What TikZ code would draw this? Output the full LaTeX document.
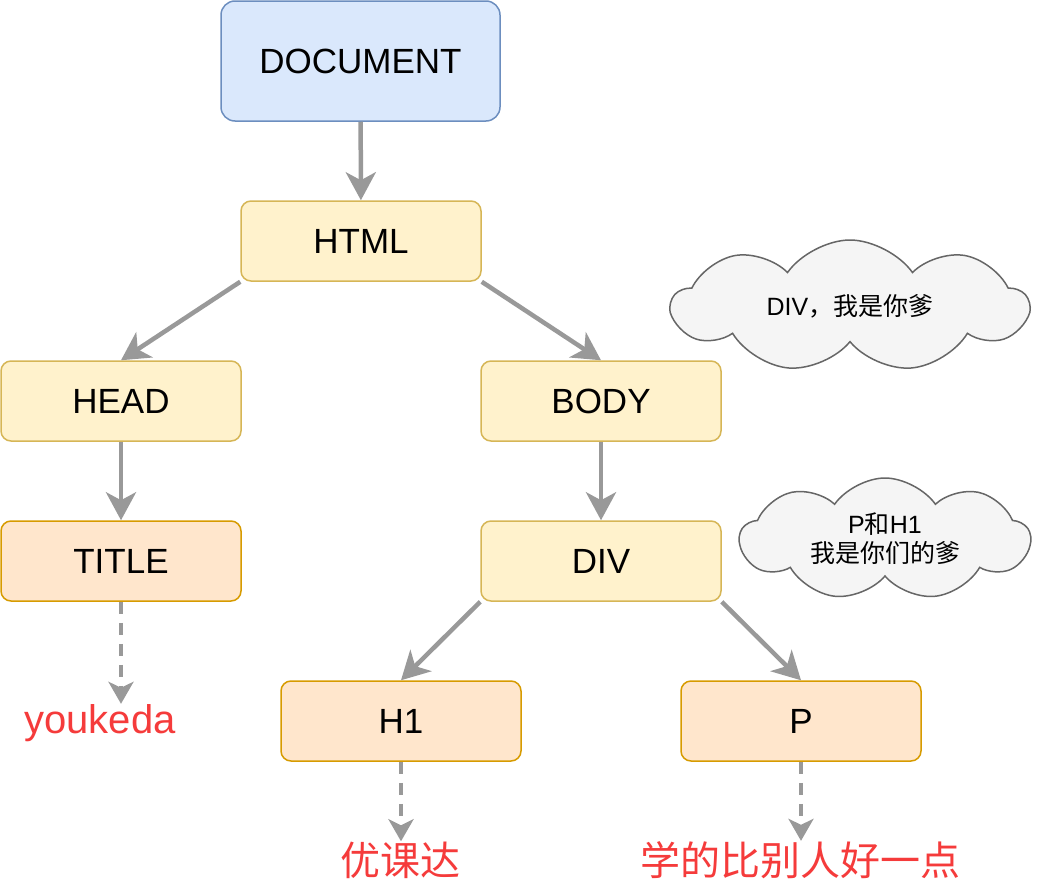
\documentclass[tikz,border=0pt]{standalone}
\usepackage{fontspec}
\setmainfont{Liberation Sans}
\newfontfamily\cjk{Noto Sans CJK SC}
\usetikzlibrary{arrows.meta,shapes.symbols}
\definecolor{docfill}{HTML}{DAE8FC}
\definecolor{docline}{HTML}{6C8EBF}
\definecolor{elfill}{HTML}{FFF2CC}
\definecolor{elline}{HTML}{D6B656}
\definecolor{leaffill}{HTML}{FFE6CC}
\definecolor{leafline}{HTML}{D79B00}
\definecolor{edgec}{HTML}{999999}
\definecolor{notefill}{HTML}{F5F5F5}
\definecolor{noteline}{HTML}{666666}
\definecolor{redtxt}{HTML}{F53B3B}
\newcommand\zh[1]{{\cjk #1}}
\tikzset{
  el/.style={draw=elline,line width=1.5pt,rounded corners=10pt,fill=elfill,minimum width=240pt,minimum height=80pt,inner sep=0pt,font=\fontsize{35}{42}\selectfont},
  docbox/.style={el,draw=docline,fill=docfill,minimum width=279pt,minimum height=120pt,rounded corners=14pt},
  leaf/.style={el,draw=leafline,fill=leaffill},
  ar/.style={-{Stealth[length=28pt,width=30pt,inset=8pt]},line width=4.5pt,edgec},
  dar/.style={-{Stealth[length=22pt,width=25pt,inset=6pt]},line width=4pt,edgec,dash pattern=on 12pt off 9pt},
  txt/.style={text=redtxt,inner sep=0pt,font=\fontsize{40}{48}\selectfont},
  note/.style={cloud,cloud puffs=9,cloud puff arc=110,cloud ignores aspect,draw=noteline,fill=notefill,line width=1.5pt,align=center,inner sep=0pt,font=\fontsize{25}{29}\selectfont}
}
\begin{document}
\begin{tikzpicture}[x=1pt,y=-1pt]
\useasboundingbox (0,0) rectangle (1042,886);
\node[docbox] (doc) at (360.5,61) {DOCUMENT};
\node[el] (html) at (361,241) {HTML};
\node[el] (head) at (121,401) {HEAD};
\node[el] (body) at (601,401) {BODY};
\node[leaf] (title) at (121,561) {TITLE};
\node[el] (div) at (601,561) {DIV};
\node[leaf] (h1) at (401,721) {H1};
\node[leaf] (p) at (801,721) {P};
\node[txt,anchor=base] (yk) at (100,733) {youkeda};
\node[txt,anchor=base] (ykzh) at (400,875) {\zh{优课达}};
\node[txt,anchor=base] (better) at (800,875) {\zh{学的比别人好一点}};
\node[note,minimum width=356pt,minimum height=132pt] (note1) at (850,306) {DIV\zh{，我是你爹}};
\node[note,minimum width=290pt,minimum height=122pt] (note2) at (885,539) {P\zh{和}H1\\\zh{我是你们的爹}};
\draw[ar] (doc) -- (html);
\draw[ar] (html.south west) -- (head.north);
\draw[ar] (html.south east) -- (body.north);
\draw[ar] (head) -- (title);
\draw[ar] (body) -- (div);
\draw[ar] (div.south west) -- (h1.north);
\draw[ar] (div.south east) -- (p.north);
\draw[dar] (title) -- (title.south |- yk.north);
\draw[dar] (h1) -- (h1.south |- ykzh.north);
\draw[dar] (p) -- (p.south |- better.north);
\end{tikzpicture}
\end{document}
